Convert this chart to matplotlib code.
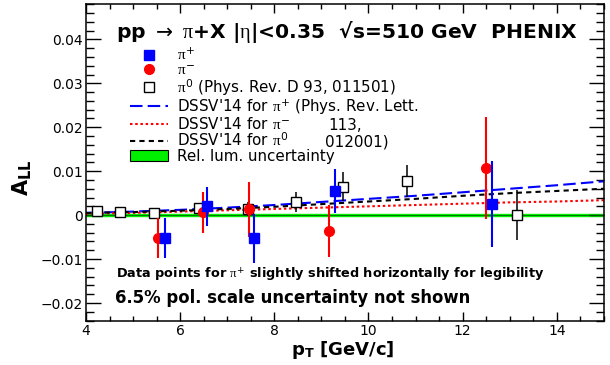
import matplotlib
matplotlib.use("Agg")
import matplotlib.pyplot as plt
from matplotlib.lines import Line2D
from matplotlib.patches import Patch
from matplotlib.ticker import MultipleLocator

plt.rcParams["font.family"] = ["DejaVu Sans"]
plt.rcParams["mathtext.fontset"] = "custom"
plt.rcParams["mathtext.rm"] = "DejaVu Sans"
plt.rcParams["mathtext.it"] = "Liberation Serif"
plt.rcParams["mathtext.bf"] = "DejaVu Sans:bold"

# pi0 (PRD 93, 011501)
pi0_pt = [4.23, 4.73, 5.45, 6.40, 7.44, 8.46, 9.46, 10.82, 13.15]
pi0_all = [0.0009, 0.0007, 0.0005, 0.0017, 0.0014, 0.0030, 0.0064, 0.0077, 0.0000]
pi0_err = [0.0004, 0.0005, 0.0006, 0.0010, 0.0016, 0.0023, 0.0033, 0.0036, 0.0057]

# pi-
pim_pt = [5.52, 6.48, 7.46, 9.16, 12.49]
pim_all = [-0.0052, 0.0006, 0.0013, -0.0036, 0.0107]
pim_err = [0.0045, 0.0046, 0.0062, 0.0060, 0.0116]

# pi+ (shifted in pT)
pip_pt = [5.68, 6.57, 7.57, 9.29, 12.62]
pip_all = [-0.0052, 0.0020, -0.0053, 0.0055, 0.0025]
pip_err = [0.0045, 0.0045, 0.0056, 0.0051, 0.0098]

# DSSV'14 curves
th_pt = [4, 5, 6, 7, 8, 9, 10, 11, 12, 13, 14, 15]
th_pip = [0.0005, 0.0008, 0.0012, 0.0017, 0.0023, 0.0030, 0.0037, 0.0044, 0.0052, 0.0060, 0.0068, 0.0077]
th_pim = [0.0003, 0.0005, 0.0008, 0.0011, 0.0014, 0.0017, 0.0020, 0.0023, 0.0026, 0.0029, 0.0031, 0.0034]
th_pi0 = [0.0005, 0.0007, 0.0010, 0.0014, 0.0019, 0.0025, 0.0031, 0.0037, 0.0044, 0.0050, 0.0055, 0.0060]

lum_unc = 0.0003

yticks = [-0.02, -0.01, 0, 0.01, 0.02, 0.03, 0.04]
ytick_labels = ["\u22120.02", "\u22120.01", "0", "0.01", "0.02", "0.03", "0.04"]

fig = plt.figure(figsize=(6.1, 3.65), dpi=100)
ax = fig.add_axes([0.141, 0.1205, 0.849, 0.868])

ax.plot(th_pt, th_pip, color="#0000ff", lw=1.5, dashes=(6, 2.5), zorder=2)
ax.plot(th_pt, th_pim, color="#ff0000", lw=1.5, dashes=(1.2, 1.3), zorder=2)
ax.plot(th_pt, th_pi0, color="black", lw=1.5, dashes=(2.5, 2), zorder=2)

ax.axhspan(-lum_unc, lum_unc, color="#00ee00", zorder=1.5)
ax.axhline(0, color="#006600", lw=0.6, zorder=1.6)

ax.errorbar(pi0_pt, pi0_all, yerr=pi0_err, fmt="s", ms=7, mfc="white", mec="black",
            mew=1.0, ecolor="black", elinewidth=1.1, capsize=0, zorder=3)
ax.errorbar(pim_pt, pim_all, yerr=pim_err, fmt="o", ms=7, color="#ff0000",
            elinewidth=1.5, capsize=0, zorder=4)
ax.errorbar(pip_pt, pip_all, yerr=pip_err, fmt="s", ms=7.5, color="#0000ff",
            elinewidth=1.5, capsize=0, zorder=5)

ax.set_xlim(4, 15)
ax.set_ylim(-0.0241, 0.048)
ax.xaxis.set_major_locator(MultipleLocator(2))
ax.xaxis.set_minor_locator(MultipleLocator(0.5))
ax.set_yticks(yticks)
ax.set_yticklabels(ytick_labels)
ax.yaxis.set_minor_locator(MultipleLocator(0.002))
ax.tick_params(which="both", direction="in", top=True, right=True, labelsize=10,
               width=1.0, colors="black")
ax.tick_params(axis="y", which="major", length=11, pad=2)
ax.tick_params(axis="y", which="minor", length=6)
ax.tick_params(axis="x", which="major", length=6.5, pad=2)
ax.tick_params(axis="x", which="minor", length=3.4)
for s in ax.spines.values():
    s.set_linewidth(1.1)

handles = [
    Line2D([], [], ls="none", marker="s", ms=7.5, color="#0000ff"),
    Line2D([], [], ls="none", marker="o", ms=7, color="#ff0000"),
    Line2D([], [], ls="none", marker="s", ms=7, mfc="white", mec="black", mew=1.0),
    Line2D([], [], color="#0000ff", lw=1.5, dashes=(6, 2.5)),
    Line2D([], [], color="#ff0000", lw=1.5, dashes=(1.2, 1.3)),
    Line2D([], [], color="black", lw=1.5, dashes=(2.5, 2)),
    Patch(facecolor="#00ee00", edgecolor="black", lw=0.8),
]
labels = [
    r"$\pi^{+}$",
    r"$\pi^{-}$",
    r"$\pi^{0}$ (Phys. Rev. D 93, 011501)",
    r"DSSV'14 for $\pi^{+}$ (Phys. Rev. Lett.",
    r"DSSV'14 for $\pi^{-}$",
    r"DSSV'14 for $\pi^{0}$",
    "Rel. lum. uncertainty",
]
leg = ax.legend(handles, labels, loc="upper left", bbox_to_anchor=(0.085, 0.865),
                frameon=False, fontsize=10.9, borderpad=0, borderaxespad=0,
                handlelength=2.5, handletextpad=0.6, labelspacing=-0.02,
                handleheight=0.7)

ax.text(0.467, 0.618, "113,", transform=ax.transAxes, fontsize=10.9, va="center")
ax.text(0.4614, 0.5647, "012001)", transform=ax.transAxes, fontsize=10.9, va="center")

ax.text(0.058, 0.9117,
        "pp $\\rightarrow$ $\\pi$+X |$\\eta$|<0.35  \u221as=510 GeV  PHENIX",
        transform=ax.transAxes, fontsize=14.6, fontweight="bold", va="center")
ax.text(0.058, 0.148,
        r"Data points for $\pi^{+}$ slightly shifted horizontally for legibility",
        transform=ax.transAxes, fontsize=9.3, fontweight="bold", va="center")
ax.text(0.056, 0.0726, "6.5% pol. scale uncertainty not shown",
        transform=ax.transAxes, fontsize=11.9, fontweight="bold", va="center")

fig.text(0.562, 0.04, r"p$_{\mathbf{T}}$ [GeV/c]", fontsize=13, fontweight="bold",
         ha="center", va="center")
fig.text(0.035, 0.512, r"A$_{\mathbf{LL}}$", fontsize=15, fontweight="bold",
         rotation=90, ha="center", va="center")

fig.savefig("out.png", dpi=100)
